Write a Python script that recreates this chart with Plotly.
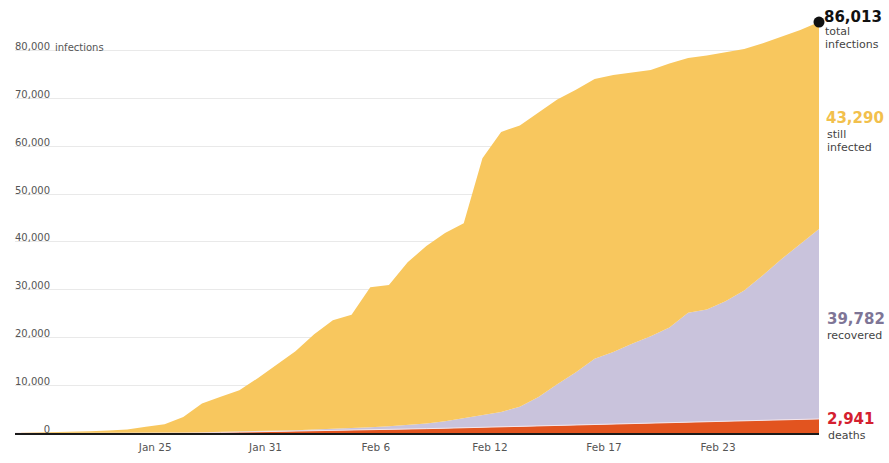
import plotly.graph_objects as go

# ---- data ----
day = list(range(44))
total_infections = [0, 50, 100, 200, 350, 500, 750, 1300, 1850, 3350, 6200, 7570,
                    8940, 11520, 14260, 17120, 20660, 23590, 24760, 30490, 31000,
                    35740, 39140, 41880, 43930, 57500, 63020, 64390, 67110, 69830,
                    71880, 74130, 74950, 75500, 75970, 77340, 78500, 79030, 79730,
                    80410, 81570, 83000, 84360, 86013]
recovered = [0, 0, 0, 0, 0, 0, 5, 10, 20, 30, 50, 70, 100, 130, 170, 220, 280, 350,
             430, 550, 700, 850, 1100, 1450, 1950, 2450, 3000, 4000, 5950, 8500,
             10900, 13650, 14980, 16580, 18060, 19800, 22770, 23340, 24960, 27130,
             30240, 33590, 36600, 39782]
deaths = [0, 0, 0, 0, 0, 10, 20, 40, 60, 80, 110, 150, 190, 250, 300, 360, 430, 500,
          570, 650, 730, 820, 910, 1000, 1100, 1250, 1380, 1500, 1600, 1700, 1800,
          1900, 2000, 2100, 2200, 2300, 2400, 2500, 2600, 2680, 2760, 2830, 2890, 2941]
still_infected = [t - r - d for t, r, d in zip(total_infections, recovered, deaths)]

x_tick_pos = [7.5, 13.4, 19.3, 25.4, 31.5, 37.6]
x_tick_labels = ["Jan 25", "Jan 31", "Feb 6", "Feb 12", "Feb 17", "Feb 23"]
y_tick_vals = [0, 10000, 20000, 30000, 40000, 50000, 60000, 70000, 80000]
y_tick_labels = ["0", "10,000", "20,000", "30,000", "40,000", "50,000", "60,000",
                 "70,000", "80,000"]

YELLOW = "#F8C75E"
LAVENDER = "#C9C3DC"
RED = "#E2541F"
FONT = "DejaVu Sans"

fig = go.Figure()
fig.add_trace(go.Scatter(x=day, y=deaths, stackgroup="one", mode="lines",
                         line=dict(width=1, color="#F3E6EC"), fillcolor=RED,
                         hoverinfo="skip", showlegend=False))
fig.add_trace(go.Scatter(x=day, y=recovered, stackgroup="one", mode="lines",
                         line=dict(width=0, color=LAVENDER), fillcolor=LAVENDER,
                         hoverinfo="skip", showlegend=False))
fig.add_trace(go.Scatter(x=day, y=still_infected, stackgroup="one", mode="lines",
                         line=dict(width=0, color=YELLOW), fillcolor=YELLOW,
                         hoverinfo="skip", showlegend=False))
fig.add_trace(go.Scatter(x=[day[-1]], y=[total_infections[-1]], mode="markers",
                         marker=dict(size=11, color="#111111"), cliponaxis=False,
                         hoverinfo="skip", showlegend=False))

W, H = 889, 463
PLOT_L, PLOT_R, PLOT_T, PLOT_B = 15, 819, 10, 443   # window pixels
L, R, T, B = PLOT_L, W - PLOT_R, PLOT_T, H - PLOT_B
pw, ph = PLOT_R - PLOT_L, PLOT_B - PLOT_T


def px(xp):
    return (xp - PLOT_L) / pw


def py(yp):
    return (PLOT_B - yp) / ph


def note(text, xp, yp, size, color, bold=False):
    fig.add_annotation(text=f"<b>{text}</b>" if bold else text,
                       xref="paper", yref="paper", x=px(xp), y=py(yp),
                       xanchor="left", yanchor="middle", showarrow=False,
                       font=dict(family=FONT, size=size, color=color))


note(f"{total_infections[-1]:,}", 822, 17, 15, "#111111", True)
note("total", 823, 32, 11, "#444444")
note("infections", 823, 45, 11, "#444444")
note(f"{still_infected[-1]:,}", 824, 121, 15, "#F2C04C", True)
note("still", 825, 137, 11, "#444444")
note("infected", 825, 151, 11, "#444444")
note(f"{recovered[-1]:,}", 825, 326, 15, "#7E7596", True)
note("recovered", 825, 343, 11, "#444444")
note(f"{deaths[-1]:,}", 825, 429, 15, "#D4202F", True)
note("deaths", 826, 446, 11, "#444444")

fig.add_annotation(text="infections", xref="paper", yref="y", x=px(53), y=80000,
                   xanchor="left", yanchor="middle", yshift=3, showarrow=False,
                   font=dict(family=FONT, size=10, color="#555555"))

fig.update_layout(
    width=W, height=H,
    margin=dict(l=L, r=R, t=T, b=B, pad=0),
    paper_bgcolor="white", plot_bgcolor="white",
    font=dict(family=FONT, size=10, color="#555555"),
    hovermode=False,
)
fig.update_xaxes(range=[0, 43], tickmode="array", tickvals=x_tick_pos,
                 ticktext=x_tick_labels, showgrid=False, zeroline=False,
                 showline=True, linecolor="#1a1a1a", linewidth=2, ticks="",
                 ticklabelstandoff=3, tickfont=dict(size=10.5, color="#555555"))
fig.update_yaxes(range=[0, 88550], tickmode="array", tickvals=y_tick_vals,
                 ticktext=y_tick_labels, showgrid=True, gridcolor="#E9E9E9",
                 gridwidth=1, zeroline=False, showline=False, ticks="",
                 ticklabelposition="outside top", ticklabelstandoff=-36,
                 ticklabelshift=3, tickfont=dict(size=10, color="#555555"))

# remove the page's default body margin so the figure fills the window exactly
fig.write_html("out.html", config={"displayModeBar": False},
               post_script="document.body.style.margin='0';"
                           "document.body.style.overflow='hidden';")
